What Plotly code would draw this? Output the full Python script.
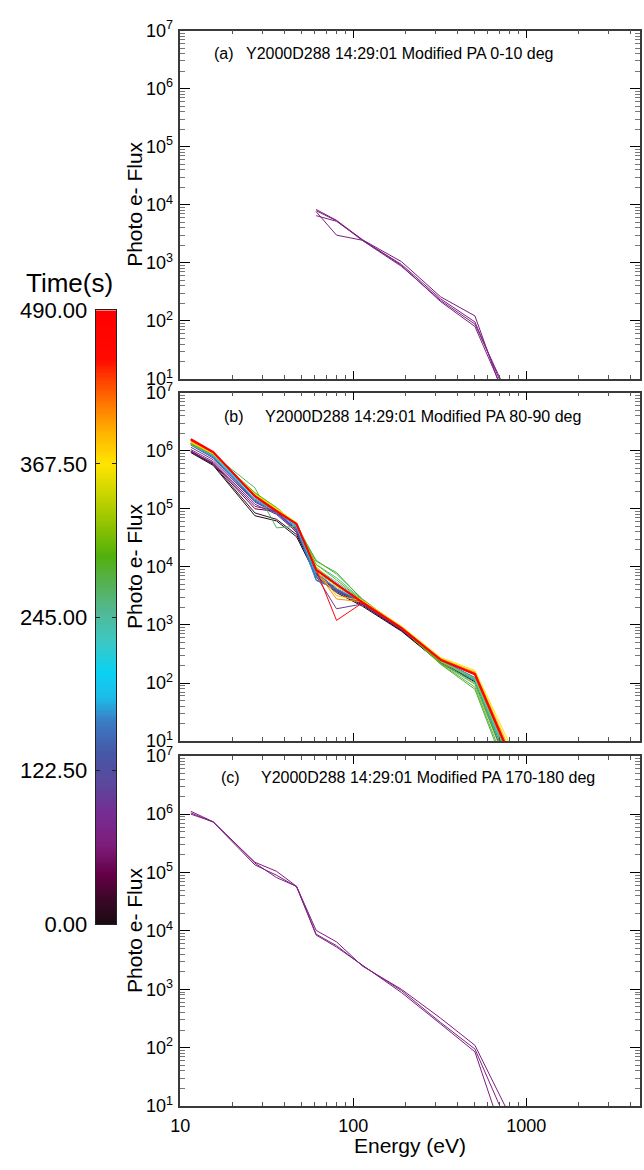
import plotly.graph_objects as go
from plotly.colors import sample_colorscale

W, H = 644, 1170
FONT = "Liberation Sans"
AX = "#3a3a3a"

# Energy channels (eV)
energy = [11.5, 15.5, 27, 36, 47, 61, 80, 113, 190, 320, 505, 880]

# Panel (a): PA 0-10 deg
pa_times = [62, 66, 70, 74]
pa_flux = [
    [None, None, None, None, None, 8300, 5400, 2500, 1050, 260, 122, 1.2],
    [None, None, None, None, None, 7600, 3000, 2450, 940, 240, 96, 2.0],
    [None, None, None, None, None, 6500, 5200, 2500, 900, 215, 80, 1.8],
    [None, None, None, None, None, 7900, 5300, 2420, 870, 225, 88, 2.5],
]

# Panel (b): PA 80-90 deg
pb_times = [0, 20, 41, 61, 82, 102, 122, 143, 163, 184, 204, 225, 245,
            265, 286, 306, 327, 347, 368, 388, 408, 429, 449, 470, 490]
pb_flux = [
    [9.3e5, 5.6e5, 7.6e4, 6.2e4, 3.3e4, 7.0e3, 3.6e3, 2.1e3, 780, 220, 105, 1.5],
    [9.6e5, 5.8e5, 8.5e4, 6.6e4, 3.6e4, 7.5e3, 3.8e3, 2.2e3, 800, 225, 110, 1.8],
    [1.0e6, 6.0e5, 1.0e5, 9.0e4, 3.9e4, 7.8e3, 4.0e3, 2.3e3, 820, 230, 112, 2.0],
    [9.6e5, 6.2e5, 1.1e5, 9.2e4, 4.2e4, 8.0e3, 4.2e3, 2.3e3, 830, 235, 115, 2.0],
    [1.05e6, 6.5e5, 1.2e5, 8.0e4, 4.0e4, 7.5e3, 4.0e3, 2.4e3, 850, 240, 118, 2.2],
    [1.15e6, 7.0e5, 1.3e5, 8.5e4, 4.3e4, 7.0e3, 1.9e3, 2.3e3, 840, 235, 115, 2.0],
    [1.25e6, 7.5e5, 1.35e5, 8.2e4, 4.5e4, 6.5e3, 3.8e3, 2.4e3, 860, 240, 120, 2.4],
    [1.3e6, 7.8e5, 1.4e5, 8.5e4, 4.6e4, 6.0e3, 4.0e3, 2.45e3, 870, 245, 122, 2.5],
    [1.35e6, 8.0e5, 1.45e5, 9.0e4, 4.8e4, 5.8e3, 4.2e3, 2.5e3, 880, 250, 125, 2.6],
    [1.3e6, 8.2e5, 1.5e5, 9.2e4, 5.0e4, 7.0e3, 4.5e3, 2.5e3, 890, 250, 120, 2.5],
    [1.3e6, 8.3e5, 1.6e5, 9.5e4, 5.0e4, 8.0e3, 4.8e3, 2.55e3, 900, 245, 115, 2.2],
    [1.28e6, 8.4e5, 1.7e5, 9.8e4, 5.2e4, 9.5e3, 5.5e3, 2.6e3, 920, 240, 110, 2.0],
    [1.3e6, 8.5e5, 1.8e5, 1.0e5, 5.2e4, 1.1e4, 6.5e3, 2.7e3, 900, 230, 100, 1.8],
    [1.3e6, 8.6e5, 2.3e5, 4.7e4, 5.0e4, 1.3e4, 7.5e3, 2.8e3, 880, 215, 85, 1.2],
    [1.32e6, 8.6e5, 1.9e5, 1.05e5, 5.3e4, 1.25e4, 8.0e3, 2.7e3, 870, 210, 78, 1.0],
    [1.35e6, 8.7e5, 1.85e5, 1.05e5, 5.4e4, 1.1e4, 6.0e3, 2.6e3, 880, 220, 95, 1.5],
    [1.38e6, 8.8e5, 1.8e5, 1.02e5, 5.5e4, 1.0e4, 5.0e3, 2.6e3, 900, 235, 120, 2.5],
    [1.4e6, 8.8e5, 1.75e5, 1.0e5, 5.6e4, 9.5e3, 4.8e3, 2.6e3, 920, 250, 140, 3.5],
    [1.45e6, 9.0e5, 1.8e5, 1.0e5, 5.8e4, 9.0e3, 4.5e3, 2.65e3, 950, 275, 165, 5.0],
    [1.45e6, 9.0e5, 1.7e5, 9.6e4, 5.6e4, 8.8e3, 3.2e3, 2.6e3, 930, 265, 155, 4.0],
    [1.5e6, 9.2e5, 1.68e5, 9.4e4, 5.5e4, 8.5e3, 2.8e3, 2.5e3, 900, 260, 150, 3.5],
    [1.5e6, 9.3e5, 1.65e5, 9.3e4, 5.5e4, 8.8e3, 5.0e3, 2.5e3, 890, 255, 145, 3.2],
    [1.55e6, 9.4e5, 1.65e5, 9.2e4, 5.5e4, 9.0e3, 5.0e3, 2.45e3, 880, 250, 140, 3.0],
    [1.55e6, 9.4e5, 1.63e5, 9.0e4, 5.4e4, 9.0e3, 1.2e3, 2.4e3, 870, 248, 140, 3.0],
    [1.58e6, 9.5e5, 1.65e5, 9.1e4, 5.5e4, 8.9e3, 5.0e3, 2.45e3, 880, 250, 142, 3.0],
]

# Panel (c): PA 170-180 deg
pc_times = [64, 68, 72]
pc_flux = [
    [1.12e6, 7.4e5, 1.5e5, 1.05e5, 5.8e4, 1.02e4, 6.5e3, 2.5e3, 1000, 320, 110, 4.0],
    [1.05e6, 7.3e5, 1.35e5, 9.0e4, 5.7e4, 8.5e3, 5.3e3, 2.6e3, 880, 255, 85, 0.63],
    [1.0e6, 7.4e5, 1.45e5, 8.2e4, 5.8e4, 8.8e3, 5.6e3, 2.55e3, 950, 270, 95, 2.2],
]

panel_titles = [
    ("(a)", "Y2000D288 14:29:01 Modified PA 0-10 deg"),
    ("(b)", "Y2000D288 14:29:01 Modified PA 80-90 deg"),
    ("(c)", "Y2000D288 14:29:01 Modified PA 170-180 deg"),
]

t_max = 490.0
cbar_ticks = [0, 122.5, 245, 367.5, 490]

# Time colour table (black -> purple -> blue -> cyan -> green -> yellow -> red)
time_scale = [
    [0.00, "#1a0a12"], [0.04, "#3a0826"], [0.08, "#640046"],
    [0.13, "#7e1e7c"], [0.18, "#762c92"], [0.23, "#5a489c"],
    [0.28, "#4658a8"], [0.33, "#3a7cc4"], [0.37, "#1cbce8"],
    [0.41, "#0ad2f2"], [0.46, "#3cc8c4"], [0.51, "#52b894"],
    [0.56, "#56b04a"], [0.60, "#52b00c"], [0.66, "#9cc600"],
    [0.71, "#d4d800"], [0.75, "#ffe400"], [0.80, "#ffb400"],
    [0.85, "#ff7400"], [0.89, "#ff3c00"], [0.92, "#ff0a00"],
    [1.00, "#ff0000"],
]


def pxx(x):
    return x / W


def pxy(y):
    return 1 - y / H


panel_tops = [19, 389, 760]
panel_bots = [375, 745, 1118]
x_left, x_right = 173, 640

fig = go.Figure()

panels = [(pa_times, pa_flux), (pb_times, pb_flux), (pc_times, pc_flux)]
for i, (times, fluxes) in enumerate(panels):
    n = i + 1
    colors = sample_colorscale(time_scale, [t / t_max for t in times])
    for j, (t, f) in enumerate(zip(times, fluxes)):
        w = 1.0
        if i == 1 and j == len(times) - 1:
            w = 2.2
        fig.add_trace(go.Scatter(
            x=energy, y=f, mode="lines",
            line=dict(color=colors[j], width=w),
            xaxis=f"x{n}", yaxis=f"y{n}",
            showlegend=False, hoverinfo="skip",
        ))

# colour bar drawn as a one-column heatmap on its own axes
levels = [t_max * k / 255 for k in range(256)]
fig.add_trace(go.Heatmap(
    x=[0], y=levels, z=[[v] for v in levels],
    colorscale=time_scale, zmin=0, zmax=t_max, showscale=False,
    xaxis="x4", yaxis="y4", hoverinfo="skip",
))

x_minor = [m * 10 ** d for d in range(1, 4) for m in range(2, 10)]
y_minor = [m * 10 ** d for d in range(1, 7) for m in range(2, 10)]
y_major = [10 ** d for d in range(1, 8)]

layout = dict(
    width=W, height=H,
    margin=dict(l=0, r=0, t=0, b=0),
    paper_bgcolor="white", plot_bgcolor="white",
    font=dict(family=FONT, color="black"),
    showlegend=False,
)

for i in range(3):
    n = i + 1
    sfx = "" if n == 1 else str(n)
    layout[f"xaxis{sfx}"] = dict(
        type="log", range=[1, 3.658],
        domain=[pxx(x_left), pxx(x_right)], anchor=f"y{n}",
        showline=True, linecolor=AX, linewidth=1.5, mirror="allticks",
        ticks="inside", ticklen=8, tickwidth=1.3, tickcolor="black",
        tickvals=[10, 100, 1000], ticktext=["10", "100", "1000"],
        showticklabels=(n == 3), tickfont=dict(size=18),
        ticklabelstandoff=3,
        minor=dict(ticks="inside", ticklen=4, tickwidth=1, tickcolor="#555",
                   tickmode="array", tickvals=x_minor, showgrid=False),
        showgrid=False, zeroline=False,
    )
    layout[f"yaxis{sfx}"] = dict(
        type="log", range=[1, 7],
        domain=[pxy(panel_bots[i]), pxy(panel_tops[i])], anchor=f"x{n}",
        showline=True, linecolor=AX, linewidth=1.5, mirror="allticks",
        ticks="inside", ticklen=10, tickwidth=1.3, tickcolor="black",
        tickvals=y_major,
        ticktext=[f"10<sup>{d}</sup>" for d in range(1, 8)],
        tickfont=dict(size=18), ticklabelstandoff=2,
        minor=dict(ticks="inside", ticklen=5, tickwidth=1, tickcolor="#777",
                   tickmode="array", tickvals=y_minor, showgrid=False),
        showgrid=False, zeroline=False,
    )

layout["xaxis4"] = dict(
    domain=[pxx(87), pxx(108)], anchor="y4", range=[-0.5, 0.5],
    showticklabels=False, ticks="", showline=True, mirror=True,
    linecolor="#222", linewidth=1, showgrid=False, zeroline=False,
)
layout["yaxis4"] = dict(
    domain=[pxy(932), pxy(305)], anchor="x4", range=[0, t_max],
    tickvals=cbar_ticks, ticktext=[f"{v:.2f}" for v in cbar_ticks],
    ticks="inside", ticklen=4, tickcolor="#222", mirror="allticks",
    showline=True, linecolor="#222", linewidth=1,
    tickfont=dict(size=22), ticklabelstandoff=3,
    showgrid=False, zeroline=False,
)

annotations = [
    dict(text="Time(s)", x=pxx(60), y=pxy(277), xref="paper", yref="paper",
         showarrow=False, font=dict(size=26), xanchor="center", yanchor="middle"),
    dict(text="Energy (eV)", x=pxx((x_left + x_right) / 2), y=pxy(1158),
         xref="paper", yref="paper", showarrow=False, font=dict(size=21),
         xanchor="center", yanchor="middle"),
]

label_x = [217, 228, 224]
text_x = [238, 257, 253]
text_y = [42, 413, 782]
for i in range(3):
    lab, txt = panel_titles[i]
    annotations.append(dict(text=lab, x=pxx(label_x[i]), y=pxy(text_y[i]),
                            xref="paper", yref="paper", showarrow=False,
                            font=dict(size=16), xanchor="center", yanchor="middle"))
    annotations.append(dict(text=txt, x=pxx(text_x[i]), y=pxy(text_y[i]),
                            xref="paper", yref="paper", showarrow=False,
                            font=dict(size=16), xanchor="left", yanchor="middle"))
    annotations.append(dict(text="Photo e- Flux", textangle=-90,
                            x=pxx(127), y=pxy((panel_tops[i] + panel_bots[i]) / 2),
                            xref="paper", yref="paper", showarrow=False,
                            font=dict(size=21), xanchor="center", yanchor="middle"))

layout["annotations"] = annotations
fig.update_layout(**layout)

fig.write_html("out.html")
